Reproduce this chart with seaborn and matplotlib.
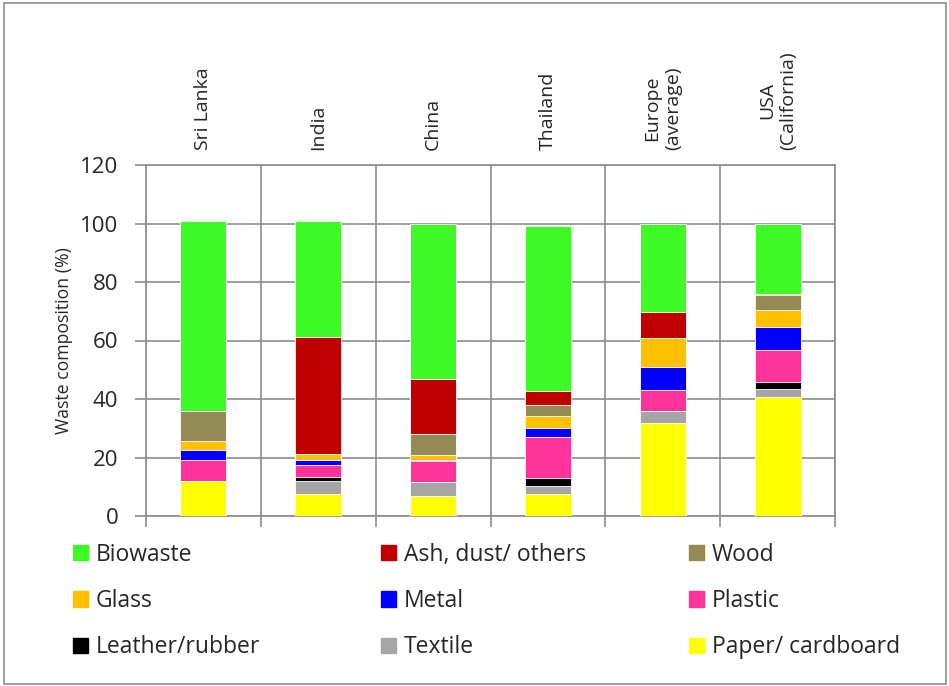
import matplotlib
matplotlib.use('Agg')
import matplotlib.pyplot as plt
import matplotlib.patches as mpatches
import numpy as np
import pandas as pd
import seaborn as sns

regions = ['Sri Lanka', 'India', 'China', 'Thailand', 'Europe\n(average)', 'USA\n(California)']

# stacked from bottom to top
paper = [12.1, 7.4, 6.8, 7.5, 31.9, 40.8]
textile = [0.0, 4.7, 4.7, 2.8, 4.0, 2.5]
leather = [0.0, 1.2, 0.0, 2.8, 0.0, 2.6]
plastic = [7.0, 4.0, 7.4, 13.9, 7.1, 10.7]
metal = [3.5, 1.7, 0.3, 3.1, 7.8, 7.9]
glass = [3.0, 2.2, 1.8, 4.2, 10.2, 5.8]
wood = [10.2, 0.0, 6.9, 3.6, 0.0, 5.3]
ash = [0.0, 40.1, 19.1, 5.0, 8.9, 0.4]
biowaste = [65.0, 39.6, 52.8, 56.4, 30.0, 23.9]

layers = ['Paper/ cardboard', 'Textile', 'Leather/rubber', 'Plastic', 'Metal',
          'Glass', 'Wood', 'Ash, dust/ others', 'Biowaste']
values = [paper, textile, leather, plastic, metal, glass, wood, ash, biowaste]
colors = ['#FFFF00', '#A6A6A6', '#000000', '#FF3399', '#0000FF',
          '#FFC000', '#948A54', '#C00000', '#3EFA26']

df = pd.DataFrame(dict(zip(layers, values)), index=regions)
cum = df.cumsum(axis=1)

sns.set_style('white')
plt.rcParams['font.family'] = ['Open Sans', 'DejaVu Sans']

fig = plt.figure(figsize=(9.49, 6.86), dpi=100)
ax = fig.add_axes([146 / 949, 1 - 516 / 686, 689 / 949, 351 / 686])

# draw tallest cumulative first, smaller ones on top -> stacked look
for name, col in reversed(list(zip(layers, colors))):
    sns.barplot(x=list(regions), y=cum[name].values, color=col, width=0.4,
                edgecolor='white', linewidth=0.6, ax=ax, saturation=1, zorder=3)

ax.set_ylim(0, 120)
ax.set_xlim(-0.5, len(regions) - 0.5)
ax.set_yticks(range(0, 121, 20))
ax.tick_params(axis='y', labelsize=16, length=8, width=1.2, color='#8C8C8C',
               left=True, pad=12)
ax.set_ylabel('Waste composition (%)', fontsize=12.7, labelpad=5)
ax.set_xlabel('')

ax.set_xticks(range(len(regions)))
ax.set_xticklabels(regions, rotation=90, fontsize=14, ha='center', va='bottom',
                   multialignment='center')
ax.tick_params(axis='x', which='major', bottom=False, labelbottom=False,
               top=False, labeltop=True, length=0, pad=11)
ax.set_xticks(np.arange(-0.5, len(regions)), minor=True)
ax.tick_params(axis='x', which='minor', bottom=True, top=False, length=8,
               width=1.2, color='#8C8C8C')

ax.grid(True, axis='y', which='major', color='#8C8C8C', linewidth=1.2, zorder=0)
ax.grid(True, axis='x', which='minor', color='#8C8C8C', linewidth=1.2, zorder=0)
ax.grid(False, axis='x', which='major')
ax.set_axisbelow(True)
for s in ax.spines.values():
    s.set_color('#8C8C8C')
    s.set_linewidth(1.2)

handles = {l: mpatches.Patch(color=c, label=l) for l, c in zip(layers, colors)}
legend_cols = [['Biowaste', 'Glass', 'Leather/rubber'],
               ['Ash, dust/ others', 'Metal', 'Textile'],
               ['Wood', 'Plastic', 'Paper/ cardboard']]
col_x = [73, 381, 689]
for names, x0 in zip(legend_cols, col_x):
    fig.legend([handles[k] for k in names], names, ncol=1, frameon=False,
               fontsize=16.5, loc='center left',
               bbox_to_anchor=(x0 / 949, 1 - 601 / 686),
               borderpad=0, borderaxespad=0,
               handlelength=0.65, handleheight=0.65, handletextpad=0.35,
               labelspacing=0.98)

fig.patches.append(mpatches.Rectangle((4 / 949, 2 / 686), 942 / 949, 681 / 686,
                                      transform=fig.transFigure, fill=False,
                                      edgecolor='#8C8C8C', linewidth=1.2))

fig.savefig('out.png', dpi=100)
